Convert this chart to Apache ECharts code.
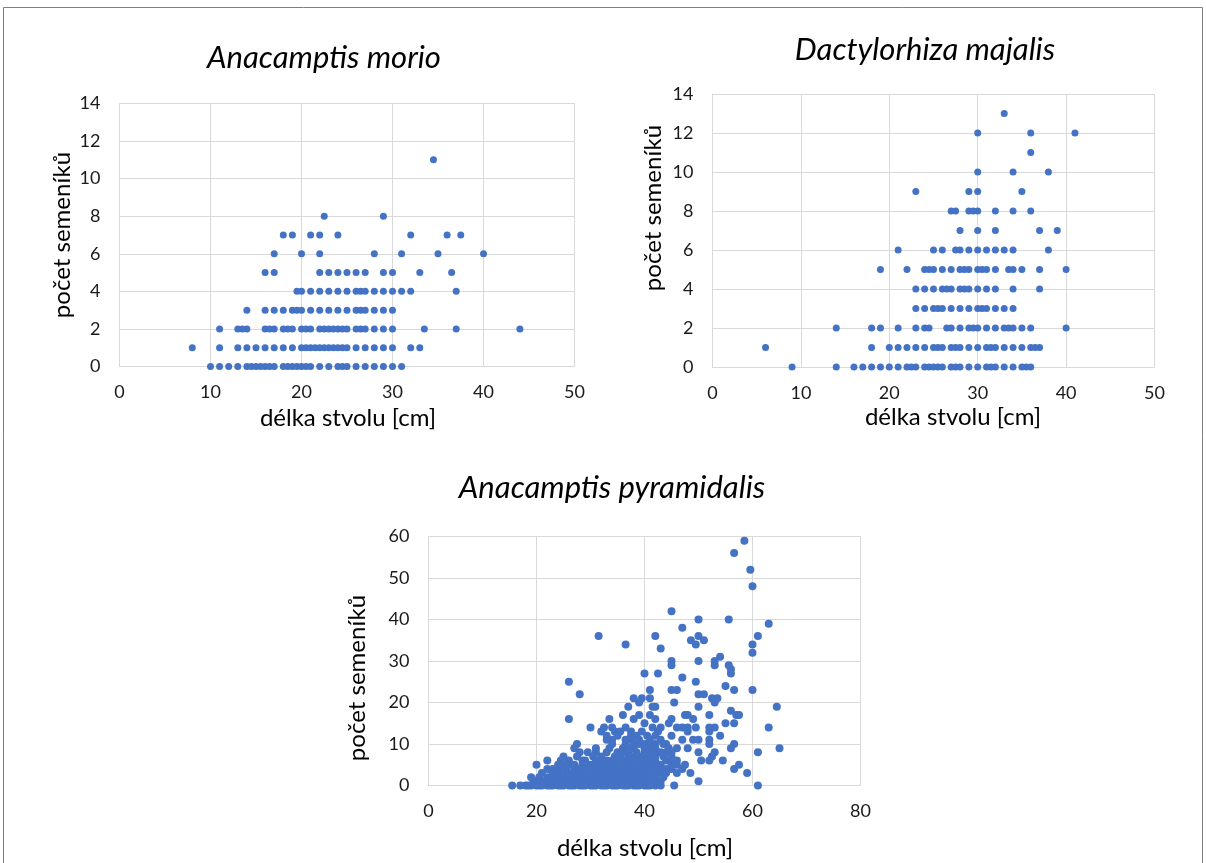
<!DOCTYPE html>
<html>
<head>
<meta charset="utf-8">
<script src="https://cdn.jsdelivr.net/npm/echarts@6/dist/echarts.min.js"></script>
<style>
  body { margin: 0; background: #fff; }
  #main { width: 1206px; height: 863px; }
</style>
</head>
<body>
<div id="main"></div>
<script>
// data: [počet semeníků, [délky stvolu]]
const morioRows = [
  [11, [34.5]],
  [8, [22.5, 29]],
  [7, [18, 19, 21, 22, 24, 32, 36, 37.5]],
  [6, [17, 20, 22, 28, 31, 35, 40]],
  [5, [16, 17, 22, 23, 24, 25, 26, 27, 29, 30, 33, 36.5]],
  [4, [19.5, 20, 21, 22, 23, 24, 25, 26, 26.5, 27, 28, 29, 30, 31, 32, 37]],
  [3, [14, 16, 17, 18, 19, 19.5, 20, 21, 22, 23, 24, 25, 26, 26.5, 27, 28, 29, 30]],
  [2, [11, 13, 13.5, 14, 16, 16.5, 17, 18, 18.5, 19, 20, 20.5, 21, 22, 22.5, 23, 23.5, 24, 24.5, 25, 26, 26.5, 27, 28, 29, 30, 33.5, 37, 44]],
  [1, [8, 11, 13, 14, 15, 16, 17, 18, 19, 20, 20.5, 21, 21.5, 22, 22.5, 23, 23.5, 24, 24.5, 25, 26, 27, 28, 29, 30, 32, 33]],
  [0, [10, 11, 12, 13, 14, 14.5, 15, 15.5, 16, 16.5, 17, 18, 18.5, 19, 19.5, 20, 20.5, 21, 22, 23, 24, 24.5, 25, 26, 27, 28, 29, 30, 31]]
];

const majalisRows = [
  [13, [33]],
  [12, [30, 36, 41]],
  [11, [36]],
  [10, [30, 34, 38]],
  [9, [23, 29, 30, 35]],
  [8, [27, 27.5, 29, 29.5, 30, 32, 34, 36]],
  [7, [28, 30, 32, 37, 39]],
  [6, [21, 25, 26, 27.5, 28, 29, 30, 31, 32, 33, 34, 38]],
  [5, [19, 22, 24, 24.5, 25, 26, 27, 28, 28.5, 29, 30, 30.5, 31, 32, 33.5, 34, 35, 37, 40]],
  [4, [23, 24, 25, 26, 26.5, 27, 28, 28.5, 29, 30, 31, 32, 34, 37]],
  [3, [23, 24, 25, 25.5, 26, 27, 28, 29, 30, 30.5, 31, 32, 33, 34]],
  [2, [14, 18, 19, 21, 23, 24, 24.5, 26.5, 27, 28, 29, 29.5, 30, 31, 32, 33, 33.5, 34, 35, 36, 40]],
  [1, [6, 18, 20, 21, 22, 23, 24, 25, 25.5, 26, 27, 27.5, 28, 29, 30, 31, 31.5, 32, 33, 34, 35, 36, 36.5, 37]],
  [0, [9, 14, 16, 17, 18, 19, 20, 21, 22, 22.5, 23, 24, 24.5, 25, 25.5, 26, 27, 27.5, 28, 29, 30, 31, 31.5, 32, 33, 34, 35, 35.5, 36]]
];

const pyramidalisRows = [
  [59, [58.5]],
  [56, [56.6]],
  [52, [59.6]],
  [48, [60]],
  [42, [45]],
  [40, [50, 55.6]],
  [39, [63]],
  [38, [47]],
  [36, [31.5, 42, 50, 61]],
  [35, [48.6, 51]],
  [34, [36.5, 49.5, 60]],
  [33, [43]],
  [32, [60]],
  [31, [54]],
  [30, [45, 50, 53]],
  [29, [45, 53, 55.6]],
  [28, [56]],
  [27, [40, 42.5, 56]],
  [26, [47]],
  [25, [26, 49.5]],
  [24, [55]],
  [23, [41, 45, 46, 56.6, 60]],
  [22, [28, 50, 51]],
  [21, [38, 39.5, 41, 52.5, 53.5]],
  [20, [39, 45.5, 53]],
  [19, [37, 41.5, 42, 50, 64.5]],
  [18, [56]],
  [17, [36, 39, 41, 47.5, 48, 52, 57, 57.5]],
  [16, [26, 33.5, 38, 42, 45, 49]],
  [15, [40, 44.5, 55, 56.6]],
  [14, [30, 32.5, 34, 36.5, 41.5, 43, 46, 47, 48, 49.5, 52, 53, 63]],
  [13, [32, 34.5, 35.5, 37.5, 39.5, 42.5, 48, 52]],
  [12, [33, 35, 37.5, 38.5, 40.5, 42, 45, 54]],
  [11, [33, 34, 36.5, 37.5, 39, 41, 43, 47, 49, 50, 52]],
  [10, [27.5, 34, 36.5, 38, 39, 40, 41, 42, 43.5, 44, 52, 56.6]],
  [9, [27, 31, 33.5, 36, 37, 38, 40, 41, 42, 44.5, 46, 48, 56, 65]],
  [8, [28, 29.5, 31, 33, 35, 36, 37, 38.5, 40, 41, 42, 43, 44, 45, 50, 53, 61]],
  [7, [25, 27.5, 30.5, 32, 34.5, 35.5, 37, 38, 39, 40, 41, 42, 43.5, 45, 52.5]],
  [6, [22, 24.5, 26, 28.5, 29, 31, 32, 33, 34, 35, 36, 37, 38, 39, 40, 41, 42, 44, 45, 46, 50.5, 52, 54.5]],
  [5, [20, 24, 25, 26, 27, 28.5, 29, 30, 31, 32, 33, 34, 35, 36, 37, 38, 39, 40, 41, 42, 43, 45, 46, 47.5, 57.5]],
  [4, [22, 23, 24, 25.5, 27, 28, 29, 30, 31, 32, 33, 34, 35, 36, 37, 38, 39, 40, 41, 42, 43, 44, 45, 47, 56.6]],
  [3, [21, 23, 24, 25, 26, 27, 28, 29, 30, 31, 32, 33, 34, 35, 36, 37, 38, 39, 40, 41, 42, 43, 44, 46, 48.5, 59]],
  [2, [19, 20.5, 22, 23, 24, 25, 26, 27, 28, 29, 30, 31, 32, 33, 34, 35, 36, 37, 38, 39, 40, 41, 42, 43.5]],
  [1, [19.5, 21, 22, 23, 24, 25, 26, 27, 28, 29, 30, 31, 32, 33, 34, 35, 36, 37, 38, 39, 40, 41, 42, 43, 50]],
  [0, [15.5, 17, 18, 18.5, 19, 20, 20.5, 21, 22, 22.5, 23, 24, 24.5, 25, 26, 26.5, 27, 28, 28.5, 29, 30, 30.5, 31, 32, 32.5, 33, 34, 34.5, 35, 36, 36.5, 37, 38, 38.5, 39, 40, 40.5, 41, 42, 43, 45.5, 61]]
];

const titles = ['Anacamptis morio', 'Dactylorhiza majalis', 'Anacamptis pyramidalis'];
const xName = 'délka stvolu [cm]';
const yName = 'počet semeníků';

// rows -> [x, y] body
function toPoints(rows) {
  let out = [];
  for (let i = 0; i < rows.length; i++) {
    for (let j = 0; j < rows[i][1].length; j++) {
      out.push([rows[i][1][j], rows[i][0]]);
    }
  }
  return out;
}

const blue = '#4472C4';
const gridColor = '#d9d9d9';
const font = 'Lato';

function xAxis(idx, max, interval) {
  return {
    type: 'value', gridIndex: idx, min: 0, max: max, interval: interval,
    axisLine: { show: true, lineStyle: { color: gridColor, width: 1 } },
    axisTick: { show: false },
    axisLabel: { color: '#1a1a1a', fontFamily: font, fontSize: 18, margin: 17 },
    splitLine: { show: true, lineStyle: { color: gridColor, width: 1 } }
  };
}
function yAxis(idx, max, interval) {
  return {
    type: 'value', gridIndex: idx, min: 0, max: max, interval: interval,
    axisLine: { show: true, lineStyle: { color: gridColor, width: 1 } },
    axisTick: { show: false },
    axisLabel: { color: '#1a1a1a', fontFamily: font, fontSize: 18, margin: 19 },
    splitLine: { show: true, lineStyle: { color: gridColor, width: 1 } }
  };
}
function label(text, x, y, size, italic, rotate) {
  return {
    type: 'text', x: x, y: y, rotation: rotate ? Math.PI / 2 : 0,
    style: {
      text: text, textAlign: 'center', textVerticalAlign: 'middle',
      font: (italic ? 'italic ' : '') + size + 'px ' + font, fill: '#000'
    }
  };
}

const chart = echarts.init(document.getElementById('main'));
chart.setOption({
  animation: false,
  grid: [
    { left: 119.5, top: 103.5, width: 455, height: 263, outerBoundsMode: 'none' },
    { left: 712.5, top: 94, width: 442, height: 273, outerBoundsMode: 'none' },
    { left: 428.5, top: 536.5, width: 432, height: 249, outerBoundsMode: 'none' }
  ],
  xAxis: [xAxis(0, 50, 10), xAxis(1, 50, 10), xAxis(2, 80, 20)],
  yAxis: [yAxis(0, 14, 2), yAxis(1, 14, 2), yAxis(2, 60, 10)],
  series: [
    { type: 'scatter', xAxisIndex: 0, yAxisIndex: 0, symbolSize: 7, itemStyle: { color: blue, opacity: 1 }, data: toPoints(morioRows) },
    { type: 'scatter', xAxisIndex: 1, yAxisIndex: 1, symbolSize: 7, itemStyle: { color: blue, opacity: 1 }, data: toPoints(majalisRows) },
    { type: 'scatter', xAxisIndex: 2, yAxisIndex: 2, symbolSize: 8, itemStyle: { color: blue, opacity: 1 }, data: toPoints(pyramidalisRows) }
  ],
  graphic: [
    { type: 'rect', shape: { x: 3.5, y: 7.5, width: 1199, height: 880 }, style: { fill: 'none', stroke: '#7f7f7f', lineWidth: 1 } },
    label(titles[0], 324, 58, 31, true),
    label(titles[1], 925, 50, 31, true),
    label(titles[2], 612, 488, 31, true),
    label(yName, 62, 235, 24, false, true),
    label(xName, 348, 418, 24, false),
    label(yName, 653, 208, 24, false, true),
    label(xName, 953, 417, 24, false),
    label(yName, 357, 678, 24, false, true),
    label(xName, 645, 848, 24, false)
  ]
});
</script>
</body>
</html>
